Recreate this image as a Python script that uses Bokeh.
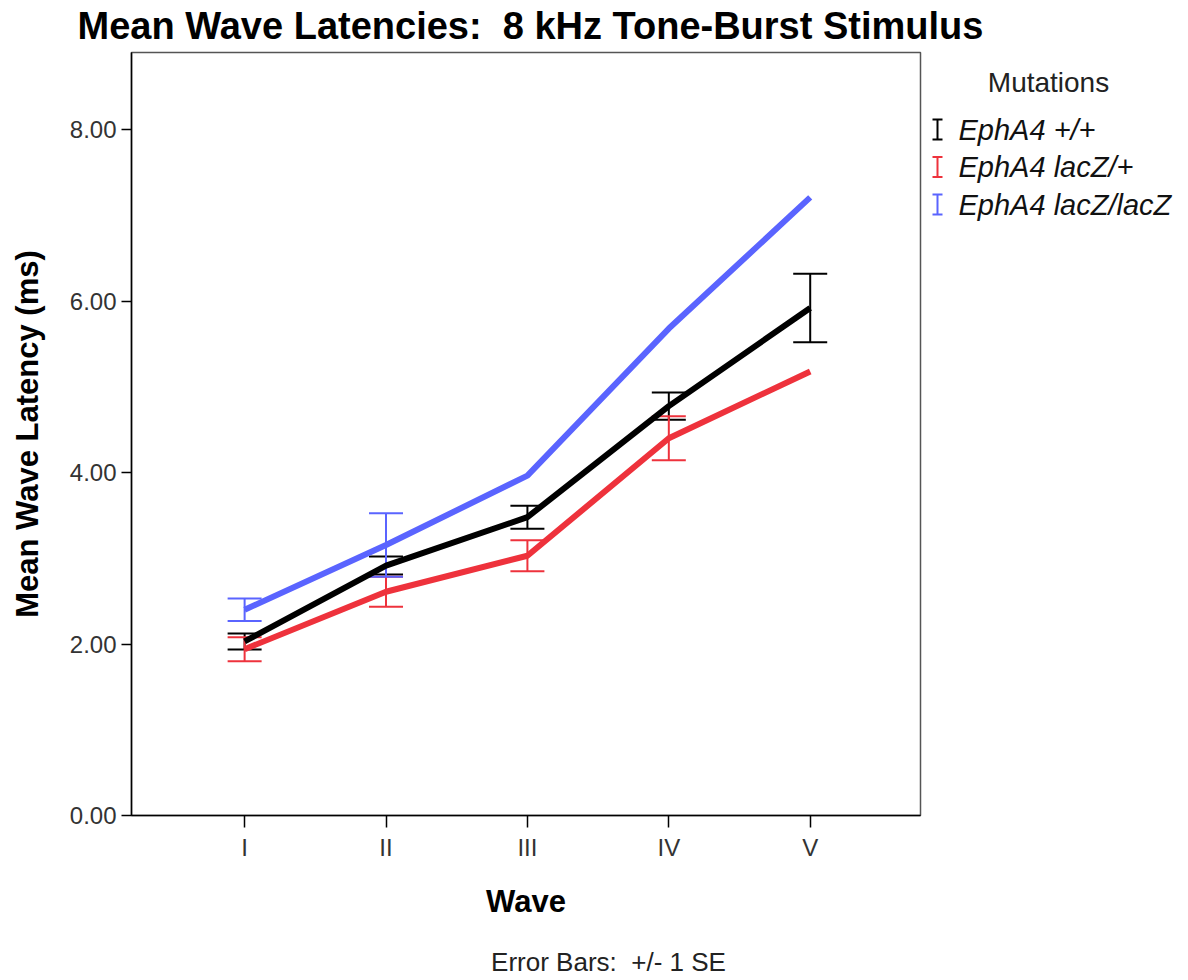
from bokeh.plotting import figure
from bokeh.models import (ColumnDataSource, Whisker, TeeHead, FixedTicker,
                          NumeralTickFormatter, Range1d)
from bokeh.layouts import row, column
from bokeh.embed import file_html
from bokeh.resources import INLINE
from bokeh.core.properties import value

# ---------------- data ----------------
waves = ["I", "II", "III", "IV", "V"]
wave_pos = [1, 2, 3, 4, 5]
series_names = ["EphA4 +/+", "EphA4 lacZ/+", "EphA4 lacZ/lacZ"]
mean_wt = [2.03, 2.915, 3.48, 4.775, 5.92]
se_wt = [0.093, 0.105, 0.134, 0.158, 0.40]
mean_het = [1.94, 2.61, 3.03, 4.40, 5.18]
se_het = [0.14, 0.175, 0.18, 0.257, None]
mean_hom = [2.40, 3.155, 3.965, 5.68, 7.21]
se_hom = [0.13, 0.37, None, None, None]
y_ticks = [0, 2, 4, 6, 8]

title_text = "Mean Wave Latencies:\u00a0 8 kHz Tone-Burst Stimulus"
legend_title = "Mutations"
note_text = "Error Bars:\u00a0 +/- 1 SE"

colors = ["#000000", "#EE323C", "#5A64FF"]
FONT = "Liberation Sans"
W, H = 1188, 980
TOP_H, BOT_H = 50, 50
MID_H = H - TOP_H - BOT_H
MAIN_W = 922
FRAME_TOP, FRAME_BOTTOM = 52, 815


def blank(width, height, y_start=None, y_end=0):
    f = figure(width=width, height=height, output_backend="svg", toolbar_location=None,
               title=None, x_range=Range1d(0, width),
               y_range=Range1d(height if y_start is None else y_start, y_end),
               min_border=0)
    f.axis.visible = False
    f.xgrid.visible = False
    f.ygrid.visible = False
    f.outline_line_color = None
    f.background_fill_color = "white"
    f.border_fill_color = "white"
    return f


# ---------------- title strip ----------------
tf = blank(W, TOP_H)
tf.text(x=[530], y=[25], text=[title_text], text_font=value(FONT),
        text_font_size="38px", text_font_style="bold", text_align="center",
        text_baseline="middle", text_color="black")

# ---------------- main plot ----------------
p = figure(width=MAIN_W, height=MID_H, output_backend="svg", toolbar_location=None,
           title=None, x_range=Range1d(0.2, 5.78), y_range=Range1d(0, 8.9),
           min_border_left=131, min_border_right=2, min_border_top=FRAME_TOP - TOP_H,
           min_border_bottom=(TOP_H + MID_H) - FRAME_BOTTOM)
p.background_fill_color = "white"
p.border_fill_color = "white"
p.outline_line_color = "#555555"
p.outline_line_width = 1.5
p.xgrid.visible = False
p.ygrid.visible = False

groups = [(mean_wt, se_wt, colors[0]), (mean_het, se_het, colors[1]),
          (mean_hom, se_hom, colors[2])]
for means, ses, col in groups:
    p.line(wave_pos, means, line_color=col, line_width=6)

for means, ses, col in groups:
    xs, up, lo = [], [], []
    for xv, m, s in zip(wave_pos, means, ses):
        if s is None:
            continue
        xs.append(xv); up.append(m + s); lo.append(m - s)
    src = ColumnDataSource(dict(x=xs, upper=up, lower=lo))
    w = Whisker(source=src, base="x", upper="upper", lower="lower", dimension="height",
                line_color=col, line_width=2,
                upper_head=TeeHead(size=34, line_color=col, line_width=2),
                lower_head=TeeHead(size=34, line_color=col, line_width=2))
    p.add_layout(w)

p.yaxis.ticker = FixedTicker(ticks=y_ticks)
p.yaxis.formatter = NumeralTickFormatter(format="0.00")
p.xaxis.ticker = FixedTicker(ticks=wave_pos)
p.xaxis.major_label_overrides = {pv: lab for pv, lab in zip(wave_pos, waves)}
for ax in (p.xaxis, p.yaxis):
    ax.minor_tick_line_color = None
    ax.major_tick_in = 0
    ax.major_tick_out = 12
    ax.axis_line_color = "black"
    ax.axis_line_width = 1.5
    ax.major_tick_line_color = "black"
    ax.major_tick_line_width = 1.5
    ax.major_label_text_font = FONT
    ax.major_label_text_font_size = "24px"
    ax.major_label_text_color = "#333333"
    ax.axis_label_text_font = FONT
    ax.axis_label_text_font_size = "31px"
    ax.axis_label_text_font_style = "bold"
    ax.axis_label_text_color = "black"
p.yaxis.major_tick_out = 10
p.xaxis.axis_label = "Wave"
p.yaxis.axis_label = "Mean Wave Latency (ms)"
p.xaxis.axis_label_standoff = 20
p.yaxis.axis_label_standoff = 22
p.xaxis.major_label_standoff = 6

# ---------------- legend panel ----------------
# the row aligns this panel's frame with the main frame, so its y range is given
# in page pixels between the frame's top and bottom edges
lg = blank(W - MAIN_W, MID_H, y_start=FRAME_BOTTOM, y_end=FRAME_TOP)
lg.text(x=[126], y=[82], text=[legend_title], text_font=value(FONT),
        text_font_size="28px", text_align="center", text_baseline="middle",
        text_color="#222222")
row_y0, row_dy = 129, 37.5
ys = [row_y0 + i * row_dy for i in range(len(series_names))]
sym_x, half_h, half_w = 15, 10, 5
lg.segment(x0=[sym_x] * 3, y0=[y - half_h for y in ys], x1=[sym_x] * 3,
           y1=[y + half_h for y in ys], line_color=colors, line_width=2)
lg.segment(x0=[sym_x - half_w] * 3, y0=[y - half_h for y in ys], x1=[sym_x + half_w] * 3,
           y1=[y - half_h for y in ys], line_color=colors, line_width=2)
lg.segment(x0=[sym_x - half_w] * 3, y0=[y + half_h for y in ys], x1=[sym_x + half_w] * 3,
           y1=[y + half_h for y in ys], line_color=colors, line_width=2)
lg.text(x=[36] * 3, y=ys, text=series_names, text_font=value(FONT),
        text_font_size="29px", text_font_style="italic", text_align="left",
        text_baseline="middle", text_color="#111111")

# ---------------- bottom strip ----------------
bf = blank(W, BOT_H)
bf.text(x=[608], y=[31], text=[note_text], text_font=value(FONT),
        text_font_size="26px", text_align="center", text_baseline="middle",
        text_color="#222222")

layout = column(tf, row(p, lg, spacing=0), bf, spacing=0)
open("out.html", "w").write(file_html(layout, INLINE))
